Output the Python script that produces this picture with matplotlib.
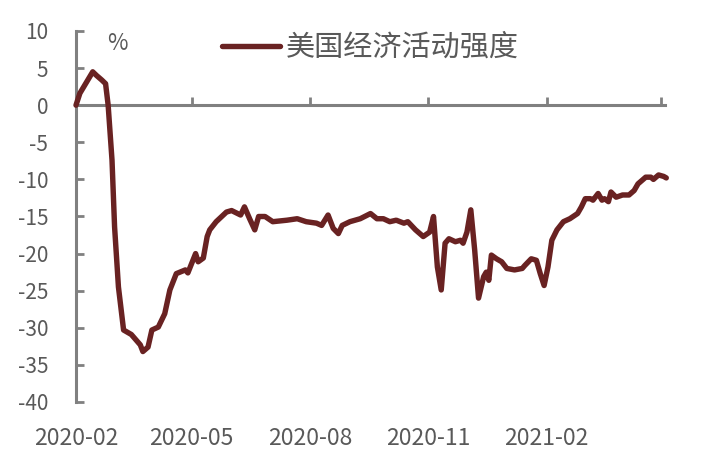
import matplotlib
matplotlib.use("Agg")
import matplotlib.pyplot as plt
import pandas as pd

plt.rcParams['font.family'] = ['Noto Sans CJK SC', 'DejaVu Sans']
plt.rcParams['axes.unicode_minus'] = False

# 数据：自 2020-02-01 起的天数，以及指数值（%）
start = pd.Timestamp('2020-02-01')
days = [0, 3, 13, 16, 20, 23, 25, 28, 30, 33, 37, 43, 47, 50, 52, 56, 59, 64, 69, 73,
        78, 85, 87, 93, 95, 99, 102, 104, 109, 117, 121, 128, 131, 135, 139, 142, 147, 153,
        164, 172, 179, 187, 191, 196, 200, 204, 207, 213, 221, 229, 234, 239, 244, 249,
        255, 258, 264, 270, 275, 278, 281, 284, 287, 290, 295, 299, 301, 304, 307, 310,
        313, 317, 319, 321, 323, 327, 331, 335, 341, 347, 349, 354, 358, 361, 364, 367,
        370, 374, 379, 384, 390, 393, 396, 400, 402, 406, 409, 411, 414, 416, 420, 425,
        430, 434, 437, 443, 447, 449, 453, 457, 459]
values = [0.0, 1.6, 4.5, 4.0, 3.4, 2.9, 0.0, -7.4, -16.4, -24.5, -30.3, -30.9, -31.7, -32.3,
          -33.2, -32.6, -30.3, -29.9, -28.1, -24.9, -22.7, -22.2, -22.6, -20.0, -21.1, -20.6,
          -17.7, -16.8, -15.7, -14.4, -14.2, -14.8, -13.7, -15.3, -16.8, -15.0, -15.0, -15.7,
          -15.5, -15.3, -15.7, -15.9, -16.2, -14.8, -16.6, -17.3, -16.2, -15.7, -15.3, -14.6,
          -15.3, -15.3, -15.7, -15.5, -15.9, -15.7, -16.8, -17.7, -17.1, -15.0, -21.8, -24.9,
          -18.6, -18.0, -18.4, -18.2, -18.6, -17.1, -14.1, -19.5, -26.0, -23.1, -22.5, -23.6,
          -20.2, -20.7, -21.1, -22.0, -22.2, -22.0, -21.6, -20.7, -20.9, -22.7, -24.3, -21.8,
          -18.2, -16.8, -15.7, -15.3, -14.6, -13.7, -12.6, -12.6, -12.8, -11.9, -12.8, -12.6,
          -13.0, -11.7, -12.4, -12.1, -12.1, -11.5, -10.6, -9.7, -9.7, -10.0, -9.4, -9.6, -9.8]

tick_dates = ['2020-02-01', '2020-05-01', '2020-08-01', '2020-11-01', '2021-02-01', '2021-05-01']
tick_labels = ['2020-02', '2020-05', '2020-08', '2020-11', '2021-02', '']
y_ticks = [-40, -35, -30, -25, -20, -15, -10, -5, 0, 5, 10]

series_name = '美国经济活动强度'
line_color = '#692222'
axis_color = '#808080'
text_color = '#595959'

tick_pos = [(pd.Timestamp(d) - start).days for d in tick_dates]

fig = plt.figure(figsize=(7.27, 4.67), dpi=100)
ax = fig.add_axes([76 / 727, 1 - 402 / 467, 589 / 727, 371 / 467])

ax.plot(days, values, color=line_color, lw=3.9, solid_capstyle='round',
        solid_joinstyle='round', clip_on=False, label=series_name, zorder=3)

ax.set_xlim(0, 458)
ax.set_ylim(-40, 10)

for s in ['top', 'right']:
    ax.spines[s].set_visible(False)
ax.spines['bottom'].set_position(('data', 0))
for s in ['left', 'bottom']:
    ax.spines[s].set_color(axis_color)
    ax.spines[s].set_linewidth(2.2)

ax.set_yticks(y_ticks)
ax.tick_params(axis='y', direction='in', length=6, width=2, color=axis_color,
               labelcolor=text_color, labelsize=15, pad=20)
ax.set_xticks(tick_pos)
ax.tick_params(axis='x', direction='in', length=6, width=2, color=axis_color,
               labelbottom=False)

# 日期标签放在图底部
sec = ax.secondary_xaxis('bottom')
sec.set_xticks(tick_pos, tick_labels)
sec.spines['bottom'].set_visible(False)
sec.tick_params(axis='x', length=0, labelcolor=text_color, labelsize=16.5, pad=18)

ax.text(32, 8.3, '%', color=text_color, fontsize=16, ha='center', va='center')

ax.legend(loc='center left', bbox_to_anchor=(222 / 727, 1 - 48 / 467),
          bbox_transform=fig.transFigure, frameon=False, fontsize=21,
          handlelength=2.0, handletextpad=0.2, borderpad=0, borderaxespad=0,
          labelcolor=text_color)

fig.savefig('out.png', dpi=100)
